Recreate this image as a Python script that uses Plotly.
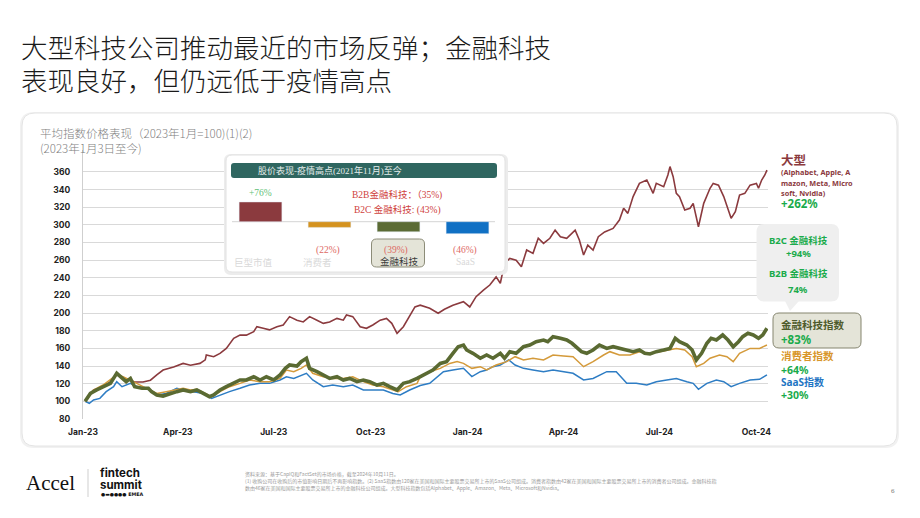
import plotly.graph_objects as go
import pandas as pd

# ---------------- data ----------------
BASE_DATE = "2023-01-01"   # day offsets below are counted from this date

big_days = [2, 10, 19, 26, 32, 38, 45, 49, 57, 64, 70, 76, 86, 95, 102, 111, 116, 117, 124, 130,
            136, 143, 149, 155, 162, 165, 171, 177, 184, 190, 196, 203, 209, 215, 222, 228, 234, 241,
            247, 250, 256, 263, 269, 275, 282, 288, 293, 298, 304, 310, 315, 320, 329, 337, 343, 351,
            361, 367, 373, 380, 386, 392, 396, 400, 405, 411, 416, 421, 427, 432, 437, 443, 448, 453,
            459, 467, 471, 475, 479, 484, 489, 495, 503, 509, 513, 517, 522, 528, 535, 541, 544, 551,
            555, 557, 560, 563, 566, 571, 576, 579, 584, 589, 595, 598, 603, 608, 612, 615, 619, 623,
            628, 633, 639, 641, 644, 647, 649]
big_vals = [100, 112.9, 116.6, 122, 131.8, 126, 124, 122, 122, 124, 130, 135.5, 139, 143, 141, 143,
            147, 152.5, 150.6, 154.4, 160, 171.4, 175, 175, 179, 184.6, 182.8, 181, 184.6, 186.5, 196,
            192, 190, 196, 192, 188.4, 190, 194, 192, 197.8, 196, 184.6, 182.8, 186.5, 192, 194, 188.4,
            177, 184.6, 196, 207, 209, 205.4, 199.8, 204.3, 209, 213, 207, 218.6, 226, 231.8, 241,
            233.8, 256.4, 262, 260, 252.6, 271.5, 267.7, 284.8, 279, 284.8, 294, 286.6, 284.8, 294,
            282.8, 265.8, 277, 271.5, 286.6, 292, 296, 305.5, 318.8, 313, 332, 347, 350.8, 335.7, 347,
            343.2, 356.5, 366, 354.6, 335.7, 332, 316.8, 318.8, 324.4, 297.9, 324.4, 341.4, 347, 345,
            332, 316.8, 307.4, 315, 333.8, 335.7, 345, 347, 341.4, 350.8, 356.5, 362]

fin_days = [2, 7, 13, 19, 26, 32, 37, 41, 45, 49, 56, 62, 65, 70, 76, 83, 89, 95, 102, 108, 114, 120,
            124, 130, 136, 143, 149, 155, 162, 168, 174, 181, 187, 192, 196, 203, 207, 212, 215, 222,
            228, 234, 241, 247, 253, 260, 266, 272, 279, 285, 291, 298, 304, 310, 317,
            320, 326, 332, 339, 345, 351, 356, 361, 364, 370, 377, 383, 389, 396, 400, 405, 411, 418,
            424, 430, 437, 441, 446, 453, 459, 464, 468, 473, 478, 484, 490, 497, 503, 509, 516, 522,
            528, 533, 538, 544, 551, 557, 562, 566, 573, 578, 582, 587, 592, 596, 601, 607, 612, 617,
            622, 626, 631, 636, 641, 645, 649]
fin_vals = [100, 109, 112.9, 116.6, 120.4, 131.8, 126, 122.3, 126, 116.6, 114.8, 114.8, 111, 107.2,
            106, 109, 111, 112.9, 111, 112.9, 109, 105.3, 107.2, 112.9, 116.6, 120.4, 124.2, 124.2,
            127.9, 124.2, 127.9, 124.2, 130, 137.4, 141.2, 140, 145, 148.8, 137.4, 133.6, 130, 126,
            127.9, 124.2, 126, 122.3, 124.2, 122.3, 118.5, 120.4, 116.6, 112.9, 120.4, 122.3, 126,
            128, 131.8, 135.5, 143, 145, 154.4, 161.9, 163.8, 158.2, 154.4, 148.8, 152.5, 148.8, 154.4,
            148.8, 156.3, 154.4, 161.9, 163.8, 167.6, 169.5, 167.6, 173.3, 171.4, 169.5, 165.8, 161.9,
            156.3, 154.4, 158.2, 163.8, 160, 161.9, 160, 158.2, 156.3, 158.2, 154.4, 153.7, 156.3,
            158.2, 160, 171.4, 167.6, 163.8, 158.2, 146.9, 154.4, 165.8, 171.4, 169.5, 175.2, 169.5,
            161.9, 167.6, 173.3, 177.1, 175.2, 171.4, 175.2, 182.8]

con_days = [2, 10, 19, 26, 32, 38, 45, 51, 57, 64, 70, 79, 89, 95, 102, 108, 116, 122, 130, 139, 149,
            158, 168, 177, 187, 193, 200, 207, 212, 218, 228, 237, 247, 256, 266, 275, 285, 294, 299,
            307, 317, 320, 329, 339, 348, 355, 361, 369, 377, 383, 392, 402, 410, 418, 427, 437, 446,
            456, 465, 475, 484, 494, 500, 509, 519, 528, 538, 547, 557, 563, 571, 578, 582, 589, 595,
            604, 611, 617, 623, 633, 642, 649]
con_vals = [100, 112.9, 118.5, 124.2, 130, 127.9, 124.2, 120.4, 116.6, 112.9, 109, 111, 112.9, 114.8,
            112.9, 113.6, 109, 105.3, 111, 116.6, 120.4, 124.2, 122.3, 122.3, 126, 135.5, 133.6, 137.4,
            141.2, 131.8, 127.9, 126, 126, 127.9, 122.3, 118.5, 116.6, 112.9, 111, 116.6, 120.4, 128,
            133.6, 137.4, 143, 145, 143, 137.4, 139.3, 135.5, 141.2, 145, 150.6, 146.9, 148.8, 146.9,
            152.5, 151.4, 150.6, 139.3, 145, 152.5, 156.3, 152.5, 152.5, 156.3, 154.4, 156.3, 158.2,
            160, 158.2, 150.6, 139.3, 143, 148.8, 152.5, 150.6, 145, 154.4, 160, 160, 163.8]

saas_days = [2, 6, 10, 16, 22, 29, 32, 37, 45, 51, 57, 64, 70, 79, 89, 95, 105, 114, 122, 130, 139, 149,
             158, 168, 177, 187, 193, 200, 209, 212, 218, 228, 237, 247, 256, 266, 275, 285, 294, 301,
             310, 320, 329, 336, 342, 351, 361, 369, 377, 383, 389, 396, 404, 410, 418, 427, 437, 446,
             456, 465, 475, 484, 497, 506, 516, 525, 535, 544, 554, 563, 573, 579, 584, 592, 601, 608,
             615, 623, 633, 642, 649]
saas_vals = [100, 97.8, 101.5, 103.4, 111, 116.6, 122.3, 116.6, 120.4, 116.6, 114.8, 112.9, 107.2, 109,
             114.8, 112.9, 111, 109, 103.4, 107.2, 111, 114.8, 118.5, 120.4, 120.4, 124.2, 127.9, 126,
             130, 131.8, 124.2, 116.6, 118.5, 116.6, 118.5, 112.9, 112.9, 112.9, 109, 107.2, 112.9,
             118, 120.4, 128, 133.6, 135.5, 137.4, 128, 133.6, 135.5, 139.3, 141.2, 146.9, 141.2,
             137.4, 135.5, 133.6, 135.5, 133.6, 131.8, 124.2, 126, 133.6, 133.6, 120.4, 120.4, 118.5,
             122.3, 124.2, 126, 122.3, 120.4, 113.6, 120.4, 124.2, 122.3, 116.6, 120.4, 124.2, 125, 130]

y_tickvals = [80, 100, 120, 140, 160, 180, 200, 220, 240, 260, 280, 300, 320, 340, 360]
x_tickvals = ["2023-01-01", "2023-04-01", "2023-07-01", "2023-10-01",
              "2024-01-01", "2024-04-01", "2024-07-01", "2024-10-01"]
x_ticktext = ["Jan-23", "Apr-23", "Jul-23", "Oct-23", "Jan-24", "Apr-24", "Jul-24", "Oct-24"]

inset_cats = ["巨型市值", "消费者", "金融科技", "SaaS"]
inset_vals = [76, -22, -39, -46]
inset_labels = ["+76%", "(22%)", "(39%)", "(46%)"]

# ---------------- styles ----------------
C_BIG = "#8b3a3e"
C_FIN = "#5a6a32"
C_CON = "#d49a3a"
C_SAAS = "#2e7dc4"
C_GREEN = "#1aab4b"
BAR_COLORS = ["#8b3a3e", "#d4921f", "#5b6b34", "#1070c4"]
CJK = "Noto Sans CJK SC"
SANS = "Noto Sans, Noto Sans CJK SC"
SERIF = "Liberation Serif, Noto Sans CJK SC"

L, R, T, B = 83, 152, 150, 99
W, H = 920, 518
PW, PH = W - L - R, H - T - B


def PX(p):
    return (p - L) / PW


def PY(p):
    return (H - B - p) / PH


def IX(p):   # inset x pixel -> x2 value
    return (p - 260.5) / 69.0


def IY(p):   # inset y pixel -> y2 value
    return (221.7 - p) / 0.26


def rrect(x0, y0, x1, y1, r, fx, fy):
    return (f"M{fx(x0 + r)},{fy(y0)} L{fx(x1 - r)},{fy(y0)} Q{fx(x1)},{fy(y0)} {fx(x1)},{fy(y0 + r)} "
            f"L{fx(x1)},{fy(y1 - r)} Q{fx(x1)},{fy(y1)} {fx(x1 - r)},{fy(y1)} "
            f"L{fx(x0 + r)},{fy(y1)} Q{fx(x0)},{fy(y1)} {fx(x0)},{fy(y1 - r)} "
            f"L{fx(x0)},{fy(y0 + r)} Q{fx(x0)},{fy(y0)} {fx(x0 + r)},{fy(y0)} Z")


def to_dates(days):
    return pd.Timestamp(BASE_DATE) + pd.to_timedelta(days, unit="D")


fig = go.Figure()

for days, vals, col, w in [(big_days, big_vals, C_BIG, 1.6),
                           (saas_days, saas_vals, C_SAAS, 1.5),
                           (con_days, con_vals, C_CON, 1.5),
                           (fin_days, fin_vals, C_FIN, 3.6)]:
    fig.add_trace(go.Scatter(x=to_dates(days), y=vals, mode="lines",
                             line=dict(color=col, width=w), hoverinfo="skip",
                             xaxis="x", yaxis="y"))

# inset bars
fig.add_trace(go.Bar(x=list(range(len(inset_cats))), y=inset_vals, marker_color=BAR_COLORS,
                     width=0.62, xaxis="x2", yaxis="y2", hoverinfo="skip"))

shapes = []
# card
shapes.append(dict(type="path", xref="paper", yref="paper", layer="below",
                   path=rrect(20, 112, 899, 448, 14, PX, PY), fillcolor="#f1f1f1", line=dict(width=0)))
shapes.append(dict(type="path", xref="paper", yref="paper", layer="below",
                   path=rrect(22, 113, 897, 446, 13, PX, PY), fillcolor="#ffffff",
                   line=dict(color="#e4e4e4", width=1)))
# inset box (drawn in the inset subplot so it covers the main gridlines)
shapes.append(dict(type="path", xref="x2", yref="y2", layer="below",
                   path=rrect(224, 154, 508, 275, 7, IX, IY), fillcolor="#ececec", line=dict(width=0)))
shapes.append(dict(type="path", xref="x2", yref="y2", layer="below",
                   path=rrect(226, 155, 505, 272, 6, IX, IY), fillcolor="#ffffff",
                   line=dict(color="#e2e2e2", width=1)))
shapes.append(dict(type="path", xref="x2", yref="y2", layer="below",
                   path=rrect(231, 163, 497, 178, 3, IX, IY), fillcolor="#2f6660", line=dict(width=0)))
shapes.append(dict(type="line", xref="x2", yref="y2", layer="below",
                   x0=IX(232), x1=IX(495), y0=0, y1=0, line=dict(color="#d4d4d4", width=1)))
shapes.append(dict(type="path", xref="x2", yref="y2", layer="below",
                   path=rrect(371.5, 239, 424.5, 267, 5, IX, IY), fillcolor="#e4e4d8",
                   line=dict(color="#8c8c78", width=1)))
# right side callout + fintech label box
shapes.append(dict(type="path", xref="paper", yref="paper", layer="above",
                   path=rrect(756.5, 224, 839, 301.5, 8, PX, PY), fillcolor="#efefef", line=dict(width=0)))
shapes.append(dict(type="path", xref="paper", yref="paper", layer="above",
                   path=f"M{PX(785)},{PY(301)} L{PX(790)},{PY(311)} L{PX(799)},{PY(301)} Z",
                   fillcolor="#efefef", line=dict(width=0)))
shapes.append(dict(type="path", xref="paper", yref="paper", layer="above",
                   path=rrect(773, 313, 861, 348, 6, PX, PY), fillcolor="#e4e4d8",
                   line=dict(color="#85856f", width=1)))
# footer separator
shapes.append(dict(type="line", xref="paper", yref="paper", x0=PX(88), x1=PX(88), y0=PY(469), y1=PY(497),
                   line=dict(color="#cfcfcf", width=1)))

ann = []


def txt(s, x, y, size, color, xanchor="left", bold=False, family=CJK, yanchor="middle", weight=None):
    ann.append(dict(text=s, x=PX(x), y=PY(y), xref="paper", yref="paper", xanchor=xanchor,
                    yanchor=yanchor, showarrow=False, borderpad=0,
                    font=dict(size=size, color=color, family=family,
                              weight=weight if weight else ("bold" if bold else "normal"))))


# titles
txt("大型科技公司推动最近的市场反弹；金融科技", 20, 46.5, 26.5, "#1a1a1a", weight=300)
txt("表现良好，但仍远低于疫情高点", 20, 79.5, 26.5, "#1a1a1a", weight=300)
txt("平均指数价格表现（2023年1月=100)(1)(2)", 39, 133, 11.5, "#808080", weight=300)
txt("(2023年1月3日至今)", 39, 148, 11.5, "#808080", weight=300)

# inset texts
txt("股价表现-疫情高点(2021年11月)至今", 257, 170.5, 9, "#e6eeec", family=SERIF)
txt(inset_labels[0], 260, 192.5, 9.5, "#63bf78", xanchor="center", family=SERIF)
txt("B2B金融科技：（35%)", 443, 195, 9.5, "#cf423c", xanchor="right", family=SERIF)
txt("B2C 金融科技: (43%)", 442, 209.5, 9.5, "#cf423c", xanchor="right", family=SERIF)
txt(inset_labels[1], 328, 250.5, 9.5, "#de6a64", xanchor="center", family=SERIF)
txt(inset_labels[2], 396, 250.5, 9.5, "#de6a64", xanchor="center", family=SERIF)
txt(inset_labels[3], 465, 250.5, 9.5, "#de6a64", xanchor="center", family=SERIF)
txt(inset_cats[0], 253, 262, 9.5, "#d9d9d9", xanchor="center", family=SERIF)
txt(inset_cats[1], 317, 262, 9.5, "#d9d9d9", xanchor="center", family=SERIF)
txt(inset_cats[2], 399, 261.5, 9.5, "#3a3a3a", xanchor="center", family=SERIF)
txt(inset_cats[3], 465, 262, 9.5, "#d9d9d9", xanchor="center", family=SERIF)

# right side labels
txt("大型", 780, 160, 12.5, C_BIG, bold=True, family=SANS)
txt("(Alphabet, Apple, A", 780, 172, 7.3, C_BIG, bold=True, family=SANS)
txt("mazon, Meta, Micro", 780, 182.5, 7.3, C_BIG, bold=True, family=SANS)
txt("soft, Nvidia)", 780, 192.5, 7.3, C_BIG, bold=True, family=SANS)
txt("+262%", 780, 203, 11.5, C_GREEN, bold=True, family=SANS)
txt("B2C 金融科技", 798, 240.5, 9.5, C_GREEN, xanchor="center", bold=True, family=SANS)
txt("+94%", 798, 253.5, 9.5, C_GREEN, xanchor="center", bold=True, family=SANS)
txt("B2B 金融科技", 798, 273.5, 9.5, C_GREEN, xanchor="center", bold=True, family=SANS)
txt("74%", 798, 289, 9.5, C_GREEN, xanchor="center", bold=True, family=SANS)
txt("金融科技指数", 780, 325, 10.5, "#4e5b2b", bold=True, family=SANS)
txt("+83%", 780, 339.5, 11.5, C_GREEN, bold=True, family=SANS)
txt("消费者指数", 780, 356, 10.5, "#d8962a", bold=True, family=SANS)
txt("+64%", 780, 369.5, 10.5, C_GREEN, bold=True, family=SANS)
txt("SaaS指数", 780, 382, 10, "#1f75c3", bold=True, family=SANS)
txt("+30%", 780, 395, 10.5, C_GREEN, bold=True, family=SANS)

# footer
txt("Accel", 25, 483, 21, "#111111", family="Liberation Serif")
txt("fintech", 99, 472.5, 11.5, "#111111", bold=True, family="Inter")
txt("summit", 99, 485, 11.5, "#111111", bold=True, family="Inter")
txt("●▬●●●● EMEA", 100, 494.5, 4.8, "#111111", bold=True, family="DejaVu Sans")
txt("资料来源：基于CapIQ和FactSet的市场价格，截至2024年10月11日。", 244, 474, 5, "#9a9a9a")
txt("(1) 收购公司在收购后的市值影响日期后不再影响指数。(2) SaaS指数由120家在美国和国际主要股票交易所上市的SaaS公司组成。"
    "消费者指数由42家在美国和国际主要股票交易所上市的消费者公司组成。金融科技指", 244, 481, 5, "#9a9a9a")
txt("数由46家在美国和国际主要股票交易所上市的金融科技公司组成。大型科技指数包括Alphabet、Apple、Amazon、Meta、Microsoft和Nvidia。",
    244, 488, 5, "#9a9a9a")
txt("6", 893, 491, 7, "#777777", xanchor="center", family="Liberation Serif")

fig.update_layout(
    width=W, height=H, autosize=False,
    margin=dict(l=L, r=R, t=T, b=B, pad=0),
    paper_bgcolor="#ffffff", plot_bgcolor="rgba(0,0,0,0)",
    showlegend=False, shapes=shapes, annotations=ann,
    xaxis=dict(type="date", range=["2023-01-01", "2024-10-12"], tickvals=x_tickvals, ticktext=x_ticktext,
               showgrid=False, showline=False, zeroline=False, ticks="", ticklabelstandoff=6,
               tickfont=dict(family="Inter", size=8.5, color="#222222", weight="bold"), domain=[0, 1]),
    yaxis=dict(range=[80, 80 + PH / 0.8825], tickvals=y_tickvals, showgrid=True, gridcolor="#d9d9d9",
               gridwidth=1, showline=True, linecolor="#cfcfcf", zeroline=False, ticks="",
               ticklabelstandoff=10, tickfont=dict(family="Inter", size=8.5, color="#222222", weight="bold"),
               domain=[0, 1]),
    xaxis2=dict(domain=[PX(222), PX(512)], range=[IX(222), IX(512)], anchor="y2", visible=False,
                fixedrange=True),
    yaxis2=dict(domain=[PY(280), PY(150)], range=[IY(280), IY(150)], anchor="x2", visible=False,
                fixedrange=True),
)

fig.write_html("out.html")
